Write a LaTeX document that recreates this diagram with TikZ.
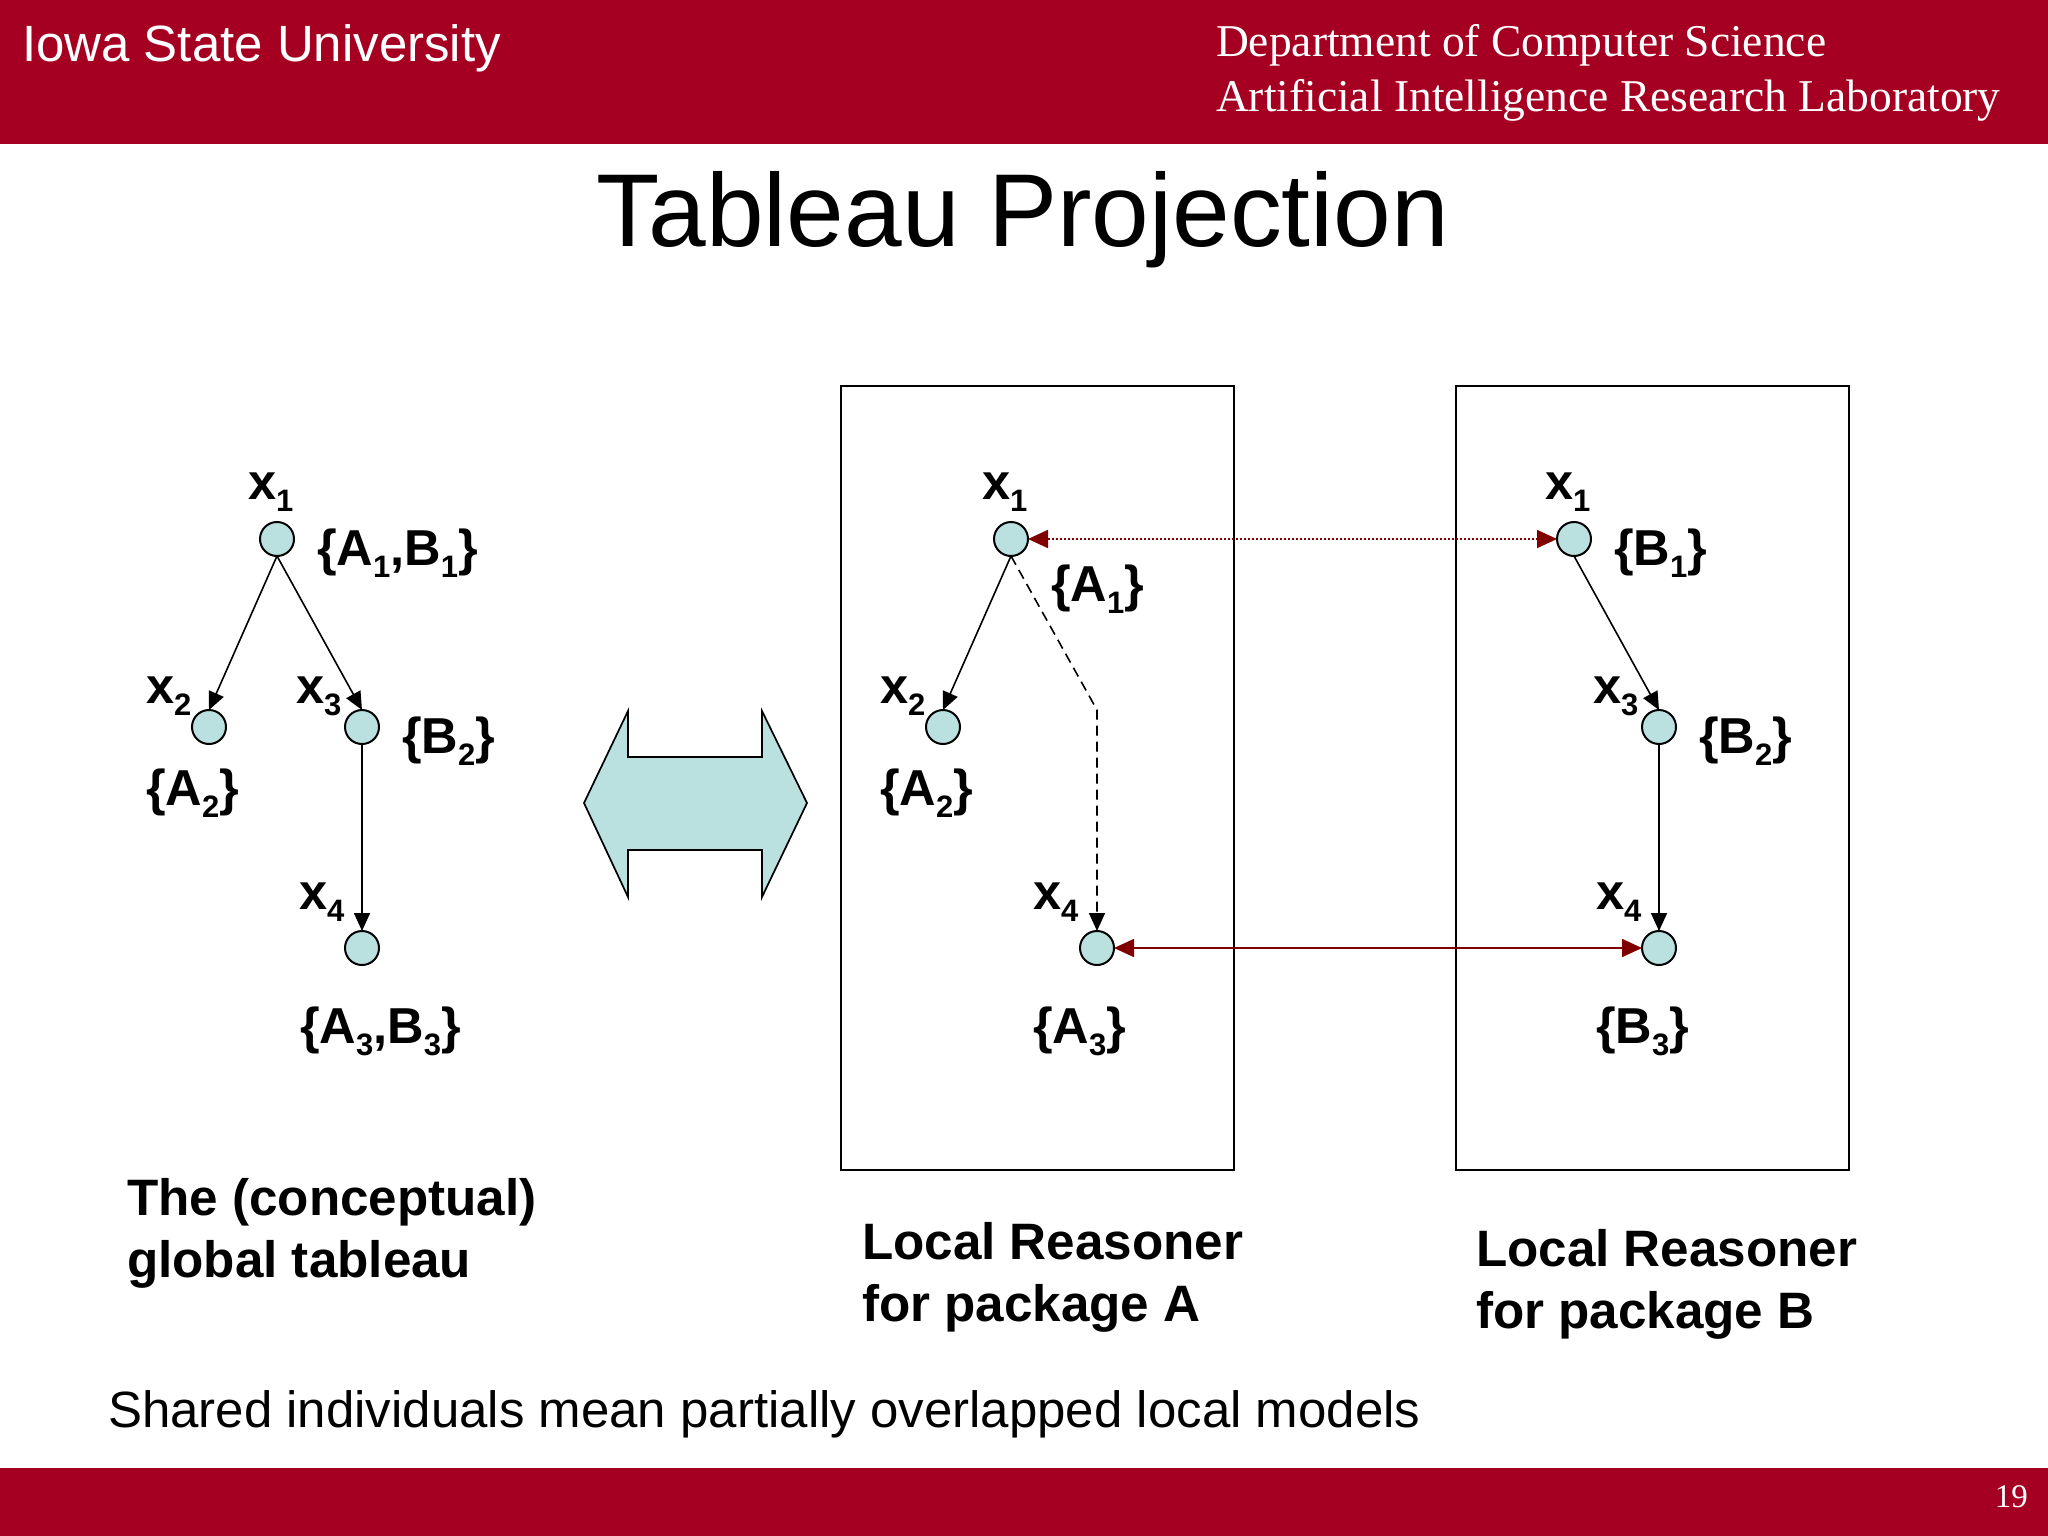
\documentclass[tikz,border=0pt]{standalone}
\usepackage{fontspec}
\setmainfont{Liberation Sans}
\newfontfamily\timesf{Liberation Serif}
\usetikzlibrary{arrows.meta}
\definecolor{isured}{HTML}{A50021}
\definecolor{teal1}{HTML}{BAE0E0}
\definecolor{darkred1}{HTML}{800000}
\newcommand{\sbs}[1]{\raisebox{-0.24em}{\fontsize{31}{31}\selectfont #1}}
\newcommand{\xsb}[2]{#1\sbs{#2}}
\tikzset{
  x=1pt,y=-1pt,
  txt/.style={anchor=base west,inner sep=0pt,outer sep=0pt},
  lab/.style={txt,font=\fontsize{50.5}{50.5}\selectfont\bfseries},
  captext/.style={txt,font=\fontsize{51.2}{51.2}\selectfont\bfseries},
  ind/.style={circle,draw=black,line width=2pt,fill=teal1,minimum size=34pt,inner sep=0pt,outer sep=0pt},
  edge1/.style={draw=black,line width=1.6pt,-{Triangle[length=18pt,width=16pt]}},
  dash1/.style={edge1,dash pattern=on 10pt off 6pt},
  link1/.style={draw=darkred1,line width=1.7pt,{Triangle[length=20pt,width=18pt]}-{Triangle[length=20pt,width=18pt]}},
  linkd/.style={link1,dash pattern=on 2pt off 2pt},
  panel/.style={draw=black,line width=1.6pt,fill=none}
}
\begin{document}
\begin{tikzpicture}
\useasboundingbox (0,0) rectangle (2048,1536);
\fill[white] (0,0) rectangle (2048,1536);
\fill[isured] (0,0) rectangle (2048,144);
\fill[isured] (0,1468) rectangle (2048,1536);
\node[txt,text=white,font=\fontsize{51}{51}\selectfont] (head) at (22,62) {Iowa State University};
\node[txt,text=white,font=\timesf\fontsize{45.5}{45.5}\selectfont] (dept) at (1216,57) {Department of Computer Science};
\node[txt,text=white,font=\timesf\fontsize{45.5}{45.5}\selectfont] (lab) at (1216,112) {Artificial Intelligence Research Laboratory};
\node[anchor=base,inner sep=0pt,font=\fontsize{103.6}{103.6}\selectfont] (title) at (1023,246) {Tableau Projection};
\node[anchor=base east,inner sep=0pt,text=white,font=\timesf\fontsize{33}{33}\selectfont] (page) at (2028,1507) {19};

% panels
\node[panel,minimum width=393pt,minimum height=784pt,inner sep=0pt,anchor=north west] (boxA) at (840,385) {};
\node[panel,minimum width=393pt,minimum height=784pt,inner sep=0pt,anchor=north west] (boxB) at (1455,385) {};

% double arrow
\filldraw[draw=black,line width=1.7pt,fill=teal1,line join=miter]
  (584,803) -- (628,711) -- (628,757) -- (762,757) -- (762,711) -- (807,803)
  -- (762,897) -- (762,850) -- (628,850) -- (628,897) -- cycle;

% individuals
\node[ind] (Lx1) at (277,539) {};
\node[ind] (Lx2) at (209,727) {};
\node[ind] (Lx3) at (362,727) {};
\node[ind] (Lx4) at (362,948) {};
\node[ind] (Ax1) at (1011,539) {};
\node[ind] (Ax2) at (943,727) {};
\node[ind] (Ax4) at (1097,948) {};
\node[ind] (Bx1) at (1574,539) {};
\node[ind] (Bx3) at (1659,727) {};
\node[ind] (Bx4) at (1659,948) {};
\coordinate (bend) at (1097,710);

% edges
\draw[edge1] (Lx1.south) -- (Lx2.north);
\draw[edge1] (Lx1.south) -- (Lx3.north);
\draw[edge1] (Lx3.south) -- (Lx4.north);
\draw[edge1] (Ax1.south) -- (Ax2.north);
\draw[dash1] (Ax1.south) -- (bend) -- (Ax4.north);
\draw[edge1] (Bx1.south) -- (Bx3.north);
\draw[edge1] (Bx3.south) -- (Bx4.north);
\draw[linkd] (Ax1.east) -- (Bx1.west);
\draw[link1] (Ax4.east) -- (Bx4.west);

% left labels
\node[lab] (l1) at (248,499) {\xsb{x}{1}};
\node[lab] (l2) at (146,703) {\xsb{x}{2}};
\node[lab] (l3) at (296,703) {\xsb{x}{3}};
\node[lab] (l4) at (299,909) {\xsb{x}{4}};
\node[lab] (l5) at (317,565) {\{A\sbs{1},B\sbs{1}\}};
\node[lab] (l6) at (146,805) {\{A\sbs{2}\}};
\node[lab] (l7) at (402,753) {\{B\sbs{2}\}};
\node[lab] (l8) at (300,1043) {\{A\sbs{3},B\sbs{3}\}};
% package A labels
\node[lab] (a1) at (982,499) {\xsb{x}{1}};
\node[lab] (a2) at (880,703) {\xsb{x}{2}};
\node[lab] (a4) at (1033,909) {\xsb{x}{4}};
\node[lab] (a5) at (1051,601) {\{A\sbs{1}\}};
\node[lab] (a6) at (880,805) {\{A\sbs{2}\}};
\node[lab] (a7) at (1033,1043) {\{A\sbs{3}\}};
% package B labels
\node[lab] (b1) at (1545,499) {\xsb{x}{1}};
\node[lab] (b3) at (1593,703) {\xsb{x}{3}};
\node[lab] (b4) at (1596,909) {\xsb{x}{4}};
\node[lab] (b5) at (1614,565) {\{B\sbs{1}\}};
\node[lab] (b6) at (1699,753) {\{B\sbs{2}\}};
\node[lab] (b7) at (1596,1043) {\{B\sbs{3}\}};

% captions
\node[captext] (c1) at (127,1215) {The (conceptual)};
\node[captext] (c2) at (127,1277) {global tableau};
\node[captext] (c3) at (862,1259) {Local Reasoner};
\node[captext] (c4) at (862,1321) {for package A};
\node[captext] (c5) at (1476,1266) {Local Reasoner};
\node[captext] (c6) at (1476,1328) {for package B};
\node[txt,font=\fontsize{51}{51}\selectfont] (c7) at (108,1427) {Shared individuals mean partially overlapped local models};
\end{tikzpicture}
\end{document}
